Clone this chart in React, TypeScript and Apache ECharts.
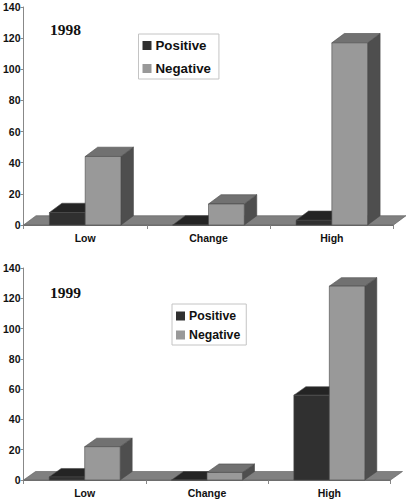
import React, { useEffect, useRef } from "react";
import * as echarts from "echarts";

const categories = ["Low", "Change", "High"];
const positive1998 = [8, 0, 3];
const negative1998 = [44, 13.5, 117];
const positive1999 = [2, 0, 56];
const negative1999 = [22, 5, 128];
const yTicksMax = 140;
const yTicksStep = 20;
const seriesNames = ["Positive", "Negative"];

const palette = {
  Positive: { front: "#303030", top: "#242424", side: "#1c1c1c" },
  Negative: { front: "#999999", top: "#717171", side: "#4e4e4e" },
};

const FONT = '"Liberation Sans", Arial, sans-serif';

function barSeries(name: "Positive" | "Negative", values: number[], idx: number, dx: number, dy: number) {
  const c = palette[name];
  const sign = name === "Positive" ? -1 : 1;
  return {
    type: "custom",
    name,
    xAxisIndex: idx,
    yAxisIndex: idx,
    itemStyle: { color: c.front },
    encode: { x: 0, y: 1 },
    clip: false,
    z: name === "Positive" ? 3 : 4,
    data: values.map((v, i) => [i, v]),
    renderItem: (_p: any, api: any) => {
      const [cx, yTop] = api.coord([api.value(0), api.value(1)]);
      const [, y0] = api.coord([api.value(0), 0]);
      const w = api.size([1, 0])[0] * 0.29;
      const x1 = sign < 0 ? cx - w : cx;
      const x2 = sign < 0 ? cx : cx + w;
      const line = { stroke: "#4a4a4a", lineWidth: 0.6 };
      return {
        type: "group",
        children: [
          { type: "polygon", shape: { points: [[x2, yTop], [x2 + dx, yTop + dy], [x2 + dx, y0 + dy], [x2, y0]] }, style: { fill: c.side, ...line } },
          { type: "polygon", shape: { points: [[x1, yTop], [x1 + dx, yTop + dy], [x2 + dx, yTop + dy], [x2, yTop]] }, style: { fill: c.top, ...line } },
          { type: "rect", shape: { x: x1, y: yTop, width: x2 - x1, height: y0 - yTop }, style: { fill: c.front, ...line } },
        ],
      };
    },
  };
}

function floorSeries(idx: number, dx: number, dy: number) {
  return {
    type: "custom",
    name: "floor",
    xAxisIndex: idx,
    yAxisIndex: idx,
    encode: { x: 0, y: 1 },
    clip: false,
    z: 2,
    silent: true,
    data: [[0, 0]],
    renderItem: (p: any, api: any) => {
      const s = p.coordSys;
      const y0 = s.y + s.height;
      return {
        type: "polygon",
        shape: { points: [[s.x, y0], [s.x + dx, y0 + dy], [s.x + s.width + dx, y0 + dy], [s.x + s.width, y0]] },
        style: { fill: "#808080", stroke: "#5a5a5a", lineWidth: 0.6 },
      };
    },
  };
}

const grids = [
  { left: 21.5, top: 7, width: 372, height: 218 },
  { left: 21.5, top: 268, width: 369, height: 212 },
];

const xAxisOf = (gridIndex: number) => ({
  type: "category",
  gridIndex,
  data: categories,
  boundaryGap: true,
  axisLine: { lineStyle: { color: "#777", width: 1 } },
  axisTick: { show: true, length: 4, lineStyle: { color: "#888" } },
  axisLabel: { color: "#111", fontFamily: FONT, fontWeight: "bold", fontSize: 10.5, margin: 7 },
});
const yAxisOf = (gridIndex: number) => ({
  type: "value",
  gridIndex,
  min: 0,
  max: yTicksMax,
  interval: yTicksStep,
  splitLine: { show: false },
  axisLine: { show: true, lineStyle: { color: "#888", width: 1 } },
  axisTick: { show: true, length: 3, lineStyle: { color: "#888" } },
  axisLabel: { color: "#111", fontFamily: FONT, fontWeight: "bold", fontSize: 10.5, margin: 3 },
});

const legendOf = (left: number, top: number, size: number, gap: number, pad: number[]) => ({
  orient: "vertical",
  left,
  top,
  data: seriesNames.map((name) => ({ name, icon: "rect" })),
  selectedMode: false,
  itemWidth: 9,
  itemHeight: 9,
  itemGap: gap,
  padding: pad,
  borderColor: "#c4c4c4",
  borderWidth: 1,
  backgroundColor: "#fff",
  textStyle: { color: "#111", fontFamily: FONT, fontWeight: "bold", fontSize: size, padding: [0, 0, 0, -1] },
});

const titleStyle = { fontFamily: '"Liberation Serif", serif', fontWeight: "bold", fontSize: 15.5, color: "#111" };

const option: any = {
  animation: false,
  backgroundColor: "#fff",
  title: [
    { text: "1998", left: 45, top: 16, textStyle: titleStyle },
    { text: "1999", left: 45, top: 279, textStyle: titleStyle },
  ],
  legend: [legendOf(138.5, 34, 13.3, 10, [5, 8, 4, 4]), legendOf(172, 304, 12.3, 7, [6, 6, 4, 4])],
  grid: grids,
  xAxis: [xAxisOf(0), xAxisOf(1)],
  yAxis: [yAxisOf(0), yAxisOf(1)],
  series: [
    floorSeries(0, 12.5, -9.3),
    barSeries("Positive", positive1998, 0, 12.5, -9.3),
    barSeries("Negative", negative1998, 0, 12.5, -9.3),
    floorSeries(1, 12, -8.5),
    barSeries("Positive", positive1999, 1, 12, -8.5),
    barSeries("Negative", negative1999, 1, 12, -8.5),
  ],
};

export default function App() {
  const ref = useRef<HTMLDivElement>(null);
  useEffect(() => {
    const chart = echarts.init(ref.current!, undefined, { renderer: "svg" });
    chart.setOption(option);
    return () => chart.dispose();
  }, []);
  return <div ref={ref} style={{ position: "fixed", left: 0, top: 0, width: 409, height: 502 }} />;
}
